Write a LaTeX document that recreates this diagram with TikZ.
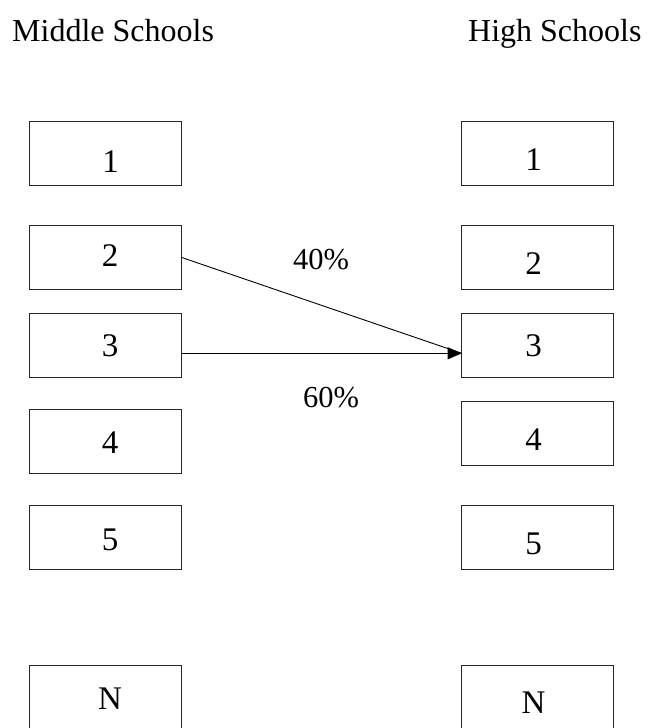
\documentclass[tikz,border=0pt]{standalone}
\usepackage{fontspec}
\setmainfont{Liberation Serif}
\usetikzlibrary{arrows.meta}
\begin{document}
\begin{tikzpicture}[x=1pt,y=-1pt,
  schoolbox/.style={draw=black!85,line width=1.1pt,minimum width=152pt,minimum height=64pt,inner sep=0pt,outer sep=0pt},
  numtext/.style={inner sep=0pt,font=\fontsize{33}{38}\selectfont},
  pcttext/.style={inner sep=0pt,font=\fontsize{30.5}{36}\selectfont},
  titletext/.style={inner sep=0pt,anchor=base west,font=\fontsize{32}{37}\selectfont},
  flow/.style={line width=0.9pt,draw=black}]
\useasboundingbox (0,0) rectangle (650,728);
% titles
\node[titletext] (tm) at (12,41.5) {Middle Schools};
\node[titletext] (th) at (468,41.5) {High Schools};
% left boxes
\node[schoolbox] (L1) at (105.75,153.3) {};
\node[schoolbox] (L2) at (105.75,257.5) {};
\node[schoolbox] (L3) at (105.75,345.3) {};
\node[schoolbox] (L4) at (105.75,441.3) {};
\node[schoolbox] (L5) at (105.75,537.3) {};
\node[schoolbox] (LN) at (105.75,697.8) {};
% right boxes
\node[schoolbox] (R1) at (537.7,153.3) {};
\node[schoolbox] (R2) at (537.7,257.5) {};
\node[schoolbox] (R3) at (537.7,345.3) {};
\node[schoolbox] (R4) at (537.7,433.7) {};
\node[schoolbox] (R5) at (537.7,537.3) {};
\node[schoolbox] (RN) at (537.7,697.8) {};
% left numbers
\node[numtext] (l1) at (110.5,162) {1};
\node[numtext] (l2) at (110,256) {2};
\node[numtext] (l3) at (110,346) {3};
\node[numtext] (l4) at (110,443) {4};
\node[numtext] (l5) at (110,540) {5};
\node[numtext] (lN) at (110,699) {N};
% right numbers
\node[numtext] (r1) at (533.5,160) {1};
\node[numtext] (r2) at (533.5,264) {2};
\node[numtext] (r3) at (533.5,346) {3};
\node[numtext] (r4) at (533.5,440) {4};
\node[numtext] (r5) at (533.5,544) {5};
\node[numtext] (rN) at (533.5,703) {N};
% flows
\draw[flow] (L2.east) -- ([yshift=-8pt]R3.west);
\draw[flow,-{Triangle[length=14pt,width=12pt]}] ([yshift=-8pt]L3.east) -- ([yshift=-8pt]R3.west);
\node[pcttext] (p40) at (321,260) {40\%};
\node[pcttext] (p60) at (331,398) {60\%};
\end{tikzpicture}
\end{document}
